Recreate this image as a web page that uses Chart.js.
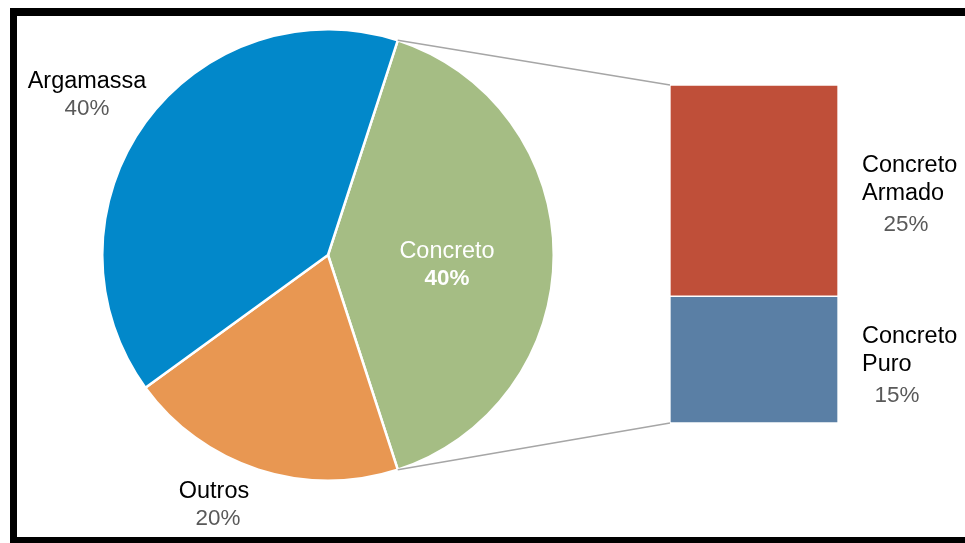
<!DOCTYPE html>
<html>
<head>
<meta charset="utf-8">
<script src="https://cdn.jsdelivr.net/npm/chart.js@4"></script>
<style>
    html, body { margin: 0; padding: 0; background: #fff; overflow: hidden; }
    body { width: 965px; height: 543px; position: relative; }
    #frame {
        position: absolute; left: 10px; top: 8px; width: 1000px; height: 535px;
        box-sizing: border-box;
        border-top: 8px solid #000; border-left: 7px solid #000; border-bottom: 6px solid #000;
    }
    canvas { position: absolute; left: 0; top: 0; }
</style>
</head>
<body>
<div id="frame"></div>
<canvas id="pie-chart" width="965" height="543"></canvas>
<canvas id="bar-chart" width="965" height="543"></canvas>
<script>
// Répartition principale (camembert)
const pieLabels = ['Concreto', 'Outros', 'Argamassa'];
const pieValues = [40, 20, 40];
const pieColors = ['#A5BD84', '#E89752', '#0288CA'];

// Détail du concreto (barre empilée, du bas vers le haut)
const barLabels = ['Concreto Puro', 'Concreto Armado'];
const barValues = [15, 25];
const barColors = ['#5A7FA5', '#BF4F39'];

const FONT = '"Liberation Sans", Arial, sans-serif';

// Emplacement des étiquettes
const labelSpots = {
    'Argamassa':       { x: 87,  y: 88,  px: 87,  py: 115, align: 'center', color: '#000', pctBold: false },
    'Concreto':        { x: 447, y: 258, px: 447, py: 285, align: 'center', color: '#fff', pctColor: '#fff', pctBold: true },
    'Outros':          { x: 214, y: 498, px: 218, py: 525, align: 'center', color: '#000', pctBold: false },
    'Concreto Armado': { x: 862, y: 172, px: 906, py: 231, align: 'left', color: '#000', pctBold: false },
    'Concreto Puro':   { x: 862, y: 343, px: 897, py: 402, align: 'left', color: '#000', pctBold: false }
};

const pieChart = new Chart(document.getElementById('pie-chart').getContext('2d'), {
    type: 'pie',
    data: {
        labels: pieLabels,
        datasets: [{
            data: pieValues,
            backgroundColor: pieColors,
            borderColor: '#fff',
            borderWidth: 2.5
        }]
    },
    options: {
        responsive: false,
        animation: false,
        events: [],
        rotation: 18,
        layout: { padding: { left: 101, right: 410, top: 28, bottom: 61 } },
        plugins: { legend: { display: false }, tooltip: { enabled: false } }
    }
});

/**
 * Dessine un texte légèrement élargi
 */
function drawText(ctx, text, x, y, align, font, color) {
    ctx.save();
    ctx.font = font;
    ctx.fillStyle = color;
    ctx.textBaseline = 'alphabetic';
    const w = ctx.measureText(text).width * 1.02;
    let left = x;
    if (align === 'center') left = x - w / 2;
    ctx.translate(left, y);
    ctx.scale(1.02, 1);
    ctx.textAlign = 'left';
    ctx.fillText(text, 0, 0);
    ctx.restore();
}

// Lignes de liaison + étiquettes
const overlayPlugin = {
    id: 'overlay',
    afterDatasetsDraw(chart) {
        const ctx = chart.ctx;
        const arc = pieChart.getDatasetMeta(0).data[0];
        const top = chart.getDatasetMeta(1).data[0];
        const bottom = chart.getDatasetMeta(0).data[0];
        const left = top.x - top.width / 2;

        ctx.save();
        ctx.strokeStyle = '#A6A6A6';
        ctx.lineWidth = 1.5;
        ctx.beginPath();
        ctx.moveTo(arc.x + arc.outerRadius * Math.cos(arc.startAngle), arc.y + arc.outerRadius * Math.sin(arc.startAngle));
        ctx.lineTo(left, top.y);
        ctx.moveTo(arc.x + arc.outerRadius * Math.cos(arc.endAngle), arc.y + arc.outerRadius * Math.sin(arc.endAngle));
        ctx.lineTo(left, bottom.base);
        ctx.stroke();
        ctx.restore();

        const entries = [];
        pieLabels.forEach((l, i) => entries.push([l, pieValues[i]]));
        barLabels.forEach((l, i) => entries.push([l, barValues[i]]));

        entries.forEach(([label, value]) => {
            const s = labelSpots[label];
            const lines = s.align === 'left' ? label.split(' ') : [label];
            lines.forEach((line, k) => {
                drawText(ctx, line, s.x, s.y + k * 28, s.align, '23px ' + FONT, s.color);
            });
            drawText(ctx, value + '%', s.px, s.py, 'center',
                (s.pctBold ? 'bold ' : '') + '22px ' + FONT, s.pctColor || '#595959');
        });
    }
};

const barChart = new Chart(document.getElementById('bar-chart').getContext('2d'), {
    type: 'bar',
    data: {
        labels: ['Concreto'],
        datasets: barLabels.map((l, i) => ({
            label: l,
            data: [barValues[i]],
            backgroundColor: barColors[i],
            borderColor: '#fff',
            borderWidth: 1,
            borderSkipped: false,
            barPercentage: 1,
            categoryPercentage: 1
        }))
    },
    options: {
        responsive: false,
        animation: false,
        events: [],
        layout: { padding: { left: 670, right: 127, top: 85, bottom: 120 } },
        scales: {
            x: { stacked: true, display: false },
            y: { stacked: true, display: false, min: 0, max: 40 }
        },
        plugins: { legend: { display: false }, tooltip: { enabled: false } }
    },
    plugins: [overlayPlugin]
});
</script>
</body>
</html>
